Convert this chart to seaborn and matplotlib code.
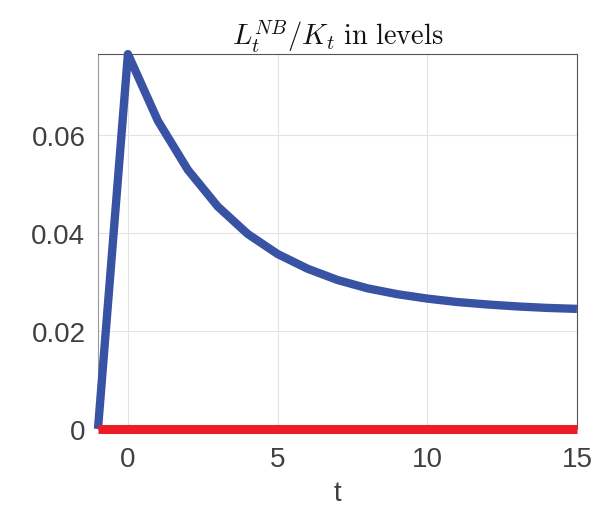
import matplotlib
matplotlib.use("Agg")
import matplotlib.pyplot as plt
import seaborn as sns
import pandas as pd

t = list(range(-1, 16))
blue_vals = [0.0, 0.0765, 0.0629, 0.0529, 0.0454, 0.0398, 0.0357, 0.0327, 0.0304,
             0.0287, 0.0275, 0.0266, 0.0259, 0.0254, 0.0250, 0.0247, 0.0245]
red_vals = [0.0] * len(t)
xticks = [0, 5, 10, 15]
yticks = [0, 0.02, 0.04, 0.06]
ytick_labels = ["0", "0.02", "0.04", "0.06"]

sns.set_theme(style="whitegrid")
plt.rcParams['font.family'] = ['Liberation Sans', 'DejaVu Sans']
plt.rcParams['mathtext.fontset'] = 'cm'

fig = plt.figure(figsize=(5.96, 5.10), dpi=100)
ax = fig.add_axes([0.1644, 0.157, 0.8036, 0.735])

df_b = pd.DataFrame({"t": t, "v": blue_vals})
df_r = pd.DataFrame({"t": t, "v": red_vals})
sns.lineplot(data=df_b, x="t", y="v", ax=ax, color="#3852A4", linewidth=6,
             solid_capstyle="butt", solid_joinstyle="round", clip_on=False, zorder=3)
sns.lineplot(data=df_r, x="t", y="v", ax=ax, color="#EE1C25", linewidth=6.5,
             solid_capstyle="butt", clip_on=False, zorder=4)

ax.set_xlim(-1, 15)
ax.set_ylim(0, 0.0765)
ax.set_xticks(xticks)
ax.set_yticks(yticks)
ax.set_yticklabels(ytick_labels)
ax.tick_params(axis="both", labelsize=20, labelcolor="#404040", direction="in",
               length=4, width=0.8, color="#888888")
ax.tick_params(axis="x", pad=12)
ax.tick_params(axis="y", pad=9)
ax.grid(True, color="#e3e3e3", linewidth=0.8)
for s in ax.spines.values():
    s.set_visible(True)
    s.set_color("#555555")
    s.set_linewidth(0.8)
ax.spines["left"].set_color("#999999")
ax.spines["bottom"].set_color("#999999")
ax.set_facecolor("white")
ax.set_xlabel("t", fontsize=20, color="#404040", labelpad=6)
ax.set_ylabel("")
ax.set_title(r"$L_t^{NB}/K_t\ \mathrm{in\ levels}$", fontsize=20.5, color="#111111", pad=7)

fig.savefig("out.png", dpi=100, facecolor="white")
